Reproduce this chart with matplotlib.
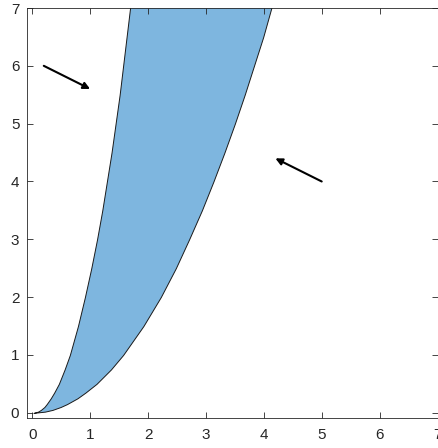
import matplotlib.pyplot as plt

# valores: altura y e as bordas esquerda/direita da faixa
y_vals = [0.0, 0.02, 0.05, 0.1, 0.15, 0.25, 0.35, 0.5, 0.75, 1.0, 1.5, 2.0,
          2.5, 3.0, 3.5, 4.0, 4.5, 5.0, 5.5, 6.0, 6.5, 7.0, 7.3]
x_esq = [0.03, 0.10, 0.15, 0.21, 0.25, 0.32, 0.38, 0.46, 0.56, 0.65, 0.79,
         0.91, 1.02, 1.12, 1.21, 1.29, 1.37, 1.44, 1.51, 1.57, 1.63, 1.69, 1.73]
x_dir = [0.03, 0.22, 0.35, 0.49, 0.60, 0.78, 0.92, 1.11, 1.36, 1.57, 1.92,
         2.22, 2.48, 2.71, 2.93, 3.13, 3.32, 3.50, 3.67, 3.83, 3.99, 4.13, 4.22]

# setas: (inicio, fim)
setas = [((0.2, 6.0), (1.0, 5.6)), ((5.0, 4.0), (4.2, 4.4))]
ticks = [0, 1, 2, 3, 4, 5, 6, 7]

fig = plt.figure(figsize=(4.38, 4.48), dpi=100)
ax = fig.add_axes([27 / 438, 30 / 448, 410.5 / 438, 410 / 448])

ax.fill_betweenx(y_vals, x_esq, x_dir, facecolor='#7eb6df',
                 edgecolor='#1a1a1a', linewidth=0.7)

for (x0, y0), (x1, y1) in setas:
    ax.annotate('', xy=(x1, y1), xytext=(x0, y0),
                arrowprops=dict(arrowstyle='-|>', color='black', lw=1.5,
                                mutation_scale=10, shrinkA=0, shrinkB=0))

ax.set_xlim(-0.09, 7)
ax.set_ylim(-0.09, 7)
ax.set_xticks(ticks)
ax.set_yticks(ticks)
ax.tick_params(direction='in', length=4, width=0.6, top=True, right=True,
               colors='#262626', labelsize=11)
ax.tick_params(axis='x', pad=7)
ax.tick_params(axis='y', pad=5.5)
for lado in ax.spines.values():
    lado.set_color('#262626')
    lado.set_linewidth(0.6)
for lbl in ax.get_xticklabels() + ax.get_yticklabels():
    lbl.set_fontfamily('Liberation Sans')

fig.savefig('out.png', dpi=100)
